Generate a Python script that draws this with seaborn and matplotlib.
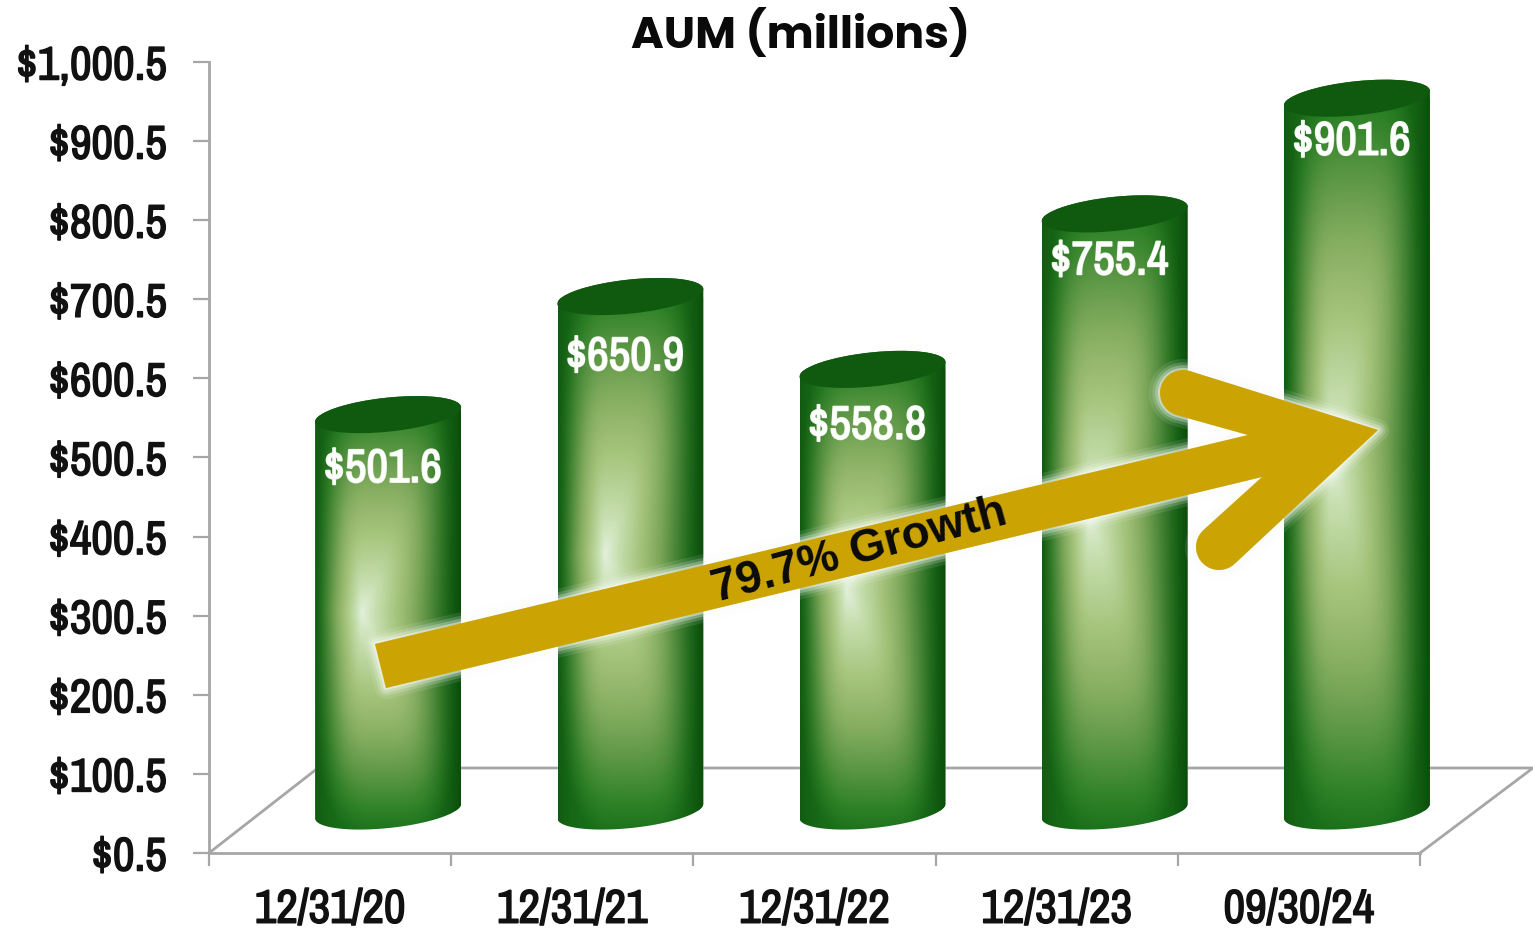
import numpy as np
import pandas as pd
import seaborn as sns
import matplotlib
matplotlib.use('Agg')
import matplotlib.pyplot as plt
import matplotlib.patheffects as pe
from matplotlib.colors import LinearSegmentedColormap, to_rgb
from matplotlib.patches import Ellipse, PathPatch, Polygon
from matplotlib.path import Path
from matplotlib.transforms import IdentityTransform

dates = ['12/31/20', '12/31/21', '12/31/22', '12/31/23', '09/30/24']
aum = [501.6, 650.9, 558.8, 755.4, 901.6]
value_labels = ['$501.6', '$650.9', '$558.8', '$755.4', '$901.6']
y_ticks = [0.5, 100.5, 200.5, 300.5, 400.5, 500.5, 600.5, 700.5, 800.5, 900.5, 1000.5]
y_tick_labels = ['$0.5', '$100.5', '$200.5', '$300.5', '$400.5', '$500.5',
                 '$600.5', '$700.5', '$800.5', '$900.5', '$1,000.5']
label_drop = [54, 60, 56, 47, 43]  # px below the top of each cylinder

W, H = 1533, 930
GREY = '#a6a6a6'
GOLD = '#cba303'
NARROW = ['Archivo Narrow', 'Liberation Sans']

sns.set_theme(style='white')
fig = plt.figure(figsize=(W / 100, H / 100), dpi=100, facecolor='white')


def box(x0, ytop, x1, ybot):
    return [x0 / W, 1 - ybot / H, (x1 - x0) / W, (ybot - ytop) / H]


# axis with the real scale
ax = fig.add_axes(box(209, 62, 1420, 853), zorder=1)
ax.set_xlim(-0.5, 4.5)
ax.set_ylim(0.5, 1000.5)
ax.patch.set_alpha(0)
for s in ['top', 'right']:
    ax.spines[s].set_visible(False)
for s in ['left', 'bottom']:
    ax.spines[s].set_color(GREY)
    ax.spines[s].set_linewidth(2)
ax.set_yticks(y_ticks)
ax.set_yticklabels(y_tick_labels, family=NARROW, weight='bold', fontsize=34, color='#111111')
ax.set_xticks(np.arange(-0.5, 5, 1))
ax.set_xticklabels([])
ax.set_xticks(range(5), dates, minor=True, family=NARROW, weight='bold', fontsize=34, color='#111111')
ax.tick_params(axis='y', length=11.5, width=1.6, color=GREY, pad=19, left=True)
ax.tick_params(axis='x', which='major', length=9.5, width=1.6, color=GREY, bottom=True)
ax.tick_params(axis='x', which='minor', length=0, pad=25, bottom=False)
# the narrow face has no bold cut here, so thicken it
for lab in ax.get_yticklabels() + ax.get_xticklabels(minor=True):
    lab.set_path_effects([pe.withStroke(linewidth=1.1, foreground='#111111')])

# floor of the fake 3D box
bg = fig.add_axes([0, 0, 1, 1], zorder=0)
bg.set_xlim(0, W)
bg.set_ylim(H, 0)
bg.axis('off')
bg.plot([209, 318, 1533, 1420], [853, 768, 768, 853], color=GREY, lw=2)

# cylinders sit in a copy of the axis pushed back along the floor
bars_ax = fig.add_axes(box(209 + 58, 62 - 42, 1420 + 58, 853 - 42), zorder=2)
df = pd.DataFrame({'date': dates, 'aum': aum})
sns.barplot(data=df, x='date', y='aum', ax=bars_ax, width=0.6, color='#146414', saturation=1)
bars_ax.set_xlim(-0.5, 4.5)
bars_ax.set_ylim(0.5, 1000.5)
bars_ax.axis('off')

shade = LinearSegmentedColormap.from_list('shade', [
    (0.0, '#e2f0da'), (0.14, '#c6deae'), (0.36, '#a6c47c'), (0.56, '#86ae60'),
    (0.74, '#5a9644'), (0.89, '#2f8228'), (1.0, '#1a701a')])
dark = np.array(to_rgb('#0b4d0b'))
CX = 0.32
TILT = np.radians(6)
A, B = 73 / np.cos(TILT), 17


def arc(c, t0, t1):
    t = np.linspace(t0, t1, 60)
    x = c[0] + A * np.cos(t) * np.cos(TILT) - B * np.sin(t) * np.sin(TILT)
    y = c[1] + A * np.cos(t) * np.sin(TILT) + B * np.sin(t) * np.cos(TILT)
    return np.column_stack([x, y])


for bar, label, drop in zip(bars_ax.patches, value_labels, label_drop):
    x0, w, v = bar.get_x(), bar.get_width(), bar.get_height()
    bottom = bars_ax.transData.transform((x0 + w / 2, 0.5))
    top = bars_ax.transData.transform((x0 + w / 2, v))
    verts = np.vstack([arc(bottom, np.pi, 2 * np.pi), arc(top, 0, np.pi)])
    outline = PathPatch(Path(np.vstack([verts, verts[:1]]), closed=True), transform=IdentityTransform())
    bar.set_clip_path(outline)

    # rectangular path gradient, lighter in the middle, dark at the sides
    u, s = np.meshgrid(np.linspace(0, 1, 220), np.linspace(-1, 1, 500))
    cx = CX + 0.2 * np.abs(s)
    dx = np.where(u < cx, (cx - u) / cx, (u - cx) / (1 - cx))
    t = np.minimum((dx ** 4 + np.abs(s) ** 4) ** 0.25, 1)
    rgb = shade(t)[..., :3]
    side = (dx ** 4 * np.where(u < cx, 0.6, 1.0))[..., None]
    rgb = rgb * (1 - side) + dark * side

    pad = 30
    im = bars_ax.imshow(rgb, extent=[x0, x0 + w, 0.5 - pad, v + pad], origin='lower',
                        aspect='auto', interpolation='bilinear', zorder=3)
    im.set_clip_box(fig.bbox)
    im.set_clip_path(outline)

    lid = Ellipse(top, 2 * A, 2 * B, angle=np.degrees(TILT), transform=IdentityTransform(),
                  facecolor='#0f5a0f', edgecolor='none', zorder=4, clip_on=False)
    bars_ax.add_patch(lid)
    bars_ax.annotate(label, xy=(x0 + w / 2, v), xytext=(-4, -drop / 100 * 72), textcoords='offset points',
                     ha='center', va='center', family=NARROW, weight='bold', fontsize=34,
                     color='white', zorder=5,
                     path_effects=[pe.withStroke(linewidth=1.2, foreground='#eef6ea')])

bars_ax.set_xlim(-0.5, 4.5)
bars_ax.set_ylim(0.5, 1000.5)

# growth arrow, in picture pixels
fg = fig.add_axes([0, 0, 1, 1], zorder=3)
fg.set_xlim(0, W)
fg.set_ylim(H, 0)
fg.axis('off')


def cap(cx, cy, a0, a1, r=23):
    a = np.radians(np.linspace(a0, a1, 24))
    return np.column_stack([cx + r * np.cos(a), cy + r * np.sin(a)])


arrow = np.vstack([
    [[375, 644], [1248, 435]],
    cap(1183, 393, 107, 287),
    [[1378, 430]],
    cap(1219, 547, 47, 227),
    [[1262, 477]],
    [[386, 688]],
])
glow = [pe.Stroke(linewidth=w, foreground='#fbfdf9', alpha=al)
        for w, al in [(16, 0.1), (11, 0.18), (7, 0.28), (3, 0.45)]] + [pe.Normal()]
fg.add_patch(Polygon(arrow, closed=True, facecolor=GOLD, edgecolor='none', joinstyle='round', path_effects=glow))
fg.text(859, 551, '79.7% Growth', rotation=15, rotation_mode='anchor', ha='center', va='center',
        family='Liberation Sans', weight='bold', fontsize=33, color='#0a0a0a')
fg.text(801, 35, 'AUM (millions)', ha='center', va='center', family=['Poppins', 'Open Sans'], weight='bold',
        fontsize=32, color='#0a0a0a')

fig.savefig('out.png', dpi=100, facecolor='white')
